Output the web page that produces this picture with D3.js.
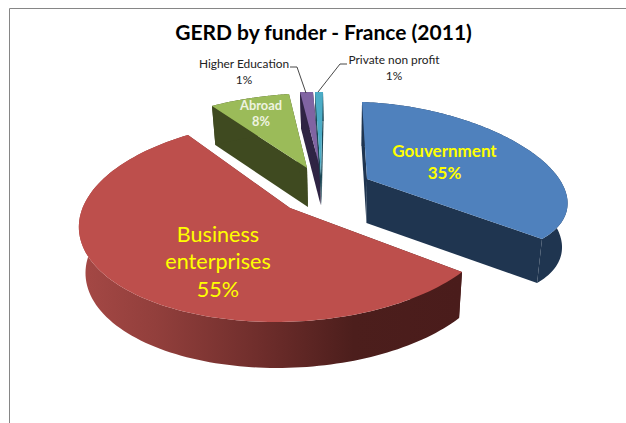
<!DOCTYPE html>
<html><head><meta charset="utf-8">
<script src="https://cdn.jsdelivr.net/npm/d3@7"></script>
<style>html,body{margin:0;padding:0;background:#fff}svg{display:block}text{font-family:Lato,"Open Sans",sans-serif}</style>
</head><body><svg id="c" width="626" height="423"></svg>
<script>
// --- data ---
const categories = ["Gouvernment", "Business enterprises", "Abroad", "Higher Education", "Private non profit"];
const shares = [35, 55, 8, 1, 1];
const titleText = "GERD by funder - France (2011)";

// --- styles / layout ---
const topColors  = ["#4F81BD", "#BD4F4C", "#9BBB59", "#8064A2", "#4BACC6"];
const sideColors = ["#1F3550", "url(#redRim)", "#3F4A20", "#2F2444", "#1C4654"];
// Screen frame of every exploded, perspective-tilted slice: apex, rim calibration, outline conic
const frames = [
  {apex:[367,179], a:[362,102], b:[542,239], m:[509,139], mDeg:60,    depth:44,
   outline:[[362,102],[440,113],[510,139],[567,197],[542,239]]},
  {apex:[290,208], a:[462,272], b:[188,135], m:[125,290], mDeg:225,   depth:46,
   outline:[[462,272],[188,135],[79,223],[200,315],[383,308]]},
  {apex:[307,168], a:[212,106], b:[289,94],  m:[245,99],  mDeg:335.7, depth:39},
  {apex:[320,168], a:[300,92],  b:[313,92],  m:null,      depth:37},
  {apex:[321,176], a:[315,92],  b:[323,92],  m:null,      depth:29}
];
const rotationDeg = -1.8;
const vanishX = 345, vanishScale = 0.975;

function solve(A, y){
  const n = y.length, M = A.map((r,i)=>[...r, y[i]]);
  for(let c=0;c<n;c++){
    let p=c; for(let r=c+1;r<n;r++) if(Math.abs(M[r][c])>Math.abs(M[p][c])) p=r;
    [M[c],M[p]]=[M[p],M[c]];
    for(let r=0;r<n;r++) if(r!==c){ const f=M[r][c]/M[c][c]; for(let k=c;k<=n;k++) M[r][k]-=f*M[c][k]; }
  }
  return M.map((r,i)=>r[n]/r[i]);
}
function homography(world, screen){
  const A=[], y=[];
  world.forEach(([u,v],i)=>{
    const [X,Y]=screen[i];
    A.push([u,v,1,0,0,0,-u*X,-v*X]); y.push(X);
    A.push([0,0,0,u,v,1,-u*Y,-v*Y]); y.push(Y);
  });
  const h=solve(A,y);
  return (u,v)=>{ const w=h[6]*u+h[7]*v+1; return [(h[0]*u+h[1]*v+h[2])/w,(h[3]*u+h[4]*v+h[5])/w]; };
}
// conic through five outline points, returned as a ray-caster from the apex
function conicFrom(apex, pts){
  const rel=pts.map(p=>[p[0]-apex[0],p[1]-apex[1]]);
  const [A,B,C,D,E]=solve(rel.map(([x,y])=>[x*x/1e4,x*y/1e4,y*y/1e4,x/100,y/100]),rel.map(()=>1));
  return p=>{
    const dx=p[0]-apex[0], dy=p[1]-apex[1];
    const qa=(A*dx*dx+B*dx*dy+C*dy*dy)/1e4, qb=(D*dx+E*dy)/100;
    const t=(-qb+Math.sqrt(qb*qb+4*qa))/(2*qa);
    return [apex[0]+t*dx, apex[1]+t*dy];
  };
}
const unit = t => [Math.sin(t), Math.cos(t)];

const svg = d3.select("#c");
const defs = svg.append("defs");
const grad = defs.append("linearGradient").attr("id","redRim").attr("gradientUnits","userSpaceOnUse")
  .attr("x1",80).attr("x2",460).attr("y1",0).attr("y2",0);
[[0,"#A54845"],[0.2,"#923F3C"],[0.48,"#6E2D2B"],[0.72,"#4C1E1C"],[1,"#4A1C1B"]]
  .forEach(([o,c])=>grad.append("stop").attr("offset",o).attr("stop-color",c));

// chart frame
svg.append("path").attr("d","M9.5,423V8.5H626").attr("fill","none").attr("stroke","#868686").attr("stroke-width",1);

const pie = d3.pie().sort(null).value(d=>d)
  .startAngle(rotationDeg*Math.PI/180).endAngle(2*Math.PI+rotationDeg*Math.PI/180);
const arcs = pie(shares);
const line = d3.line();
const drawOrder = [0,2,3,4,1];

drawOrder.forEach(i=>{
  const f=frames[i], d=arcs[i];
  const [ua,va]=unit(d.startAngle), [ub,vb]=unit(d.endAngle);
  let m=f.m, mt=f.mDeg*Math.PI/180;
  if(!m){ // nearly flat sliver: affine frame
    mt=(d.startAngle+d.endAngle)/2;
    const [um,vm]=unit(mt);
    const sx=solve([[ua,va],[ub,vb]],[f.a[0]-f.apex[0],f.b[0]-f.apex[0]]);
    const sy=solve([[ua,va],[ub,vb]],[f.a[1]-f.apex[1],f.b[1]-f.apex[1]]);
    m=[f.apex[0]+sx[0]*um+sx[1]*vm, f.apex[1]+sy[0]*um+sy[1]*vm];
  }
  const H=homography([[0,0],[ua,va],[ub,vb],unit(mt)],[f.apex,f.a,f.b,m]);
  const cast=f.outline?conicFrom(f.apex,f.outline):(p=>p);
  const rim=d3.range(0,121).map(k=>{
    const [u,v]=unit(d.startAngle+(d.endAngle-d.startAngle)*k/120);
    return cast(H(u,v));
  });
  const drop=p=>[vanishX+(p[0]-vanishX)*vanishScale,p[1]+f.depth];
  const g=svg.append("g").attr("class","slice");
  const apexLow=drop(f.apex);
  // radial walls
  g.append("path").attr("d",line([f.apex,rim[0],drop(rim[0]),apexLow])+"Z").attr("fill",sideColors[i]);
  g.append("path").attr("d",line([f.apex,rim[120],drop(rim[120]),apexLow])+"Z").attr("fill",sideColors[i]);
  // outer wall
  g.append("path").attr("d",line(rim.concat(rim.map(drop).reverse()))+"Z").attr("fill",sideColors[i]);
  // top
  g.append("path").attr("d",line([f.apex].concat(rim))+"Z").attr("fill",topColors[i]);
});

// leader lines
const leaders = [[[290,67],[297,67],[306,93]],[[347,64],[340,64],[318,92]]];
leaders.forEach(p=>svg.append("path").attr("d",line(p)).attr("fill","none").attr("stroke","#333").attr("stroke-width",0.9));

// text
const pct = shares.map(s=>s+"%");
const labels = [
  {lines:[categories[0],pct[0]],x:444.5,y:[157,179],size:17,weight:700,fill:"#FFFF00"},
  {lines:["Business","enterprises",pct[1]],x:218,y:[242,269,297],size:21.6,weight:400,fill:"#FFFF00"},
  {lines:[categories[2],pct[2]],x:261,y:[110,126],size:12.8,weight:700,fill:"#EEF3E0"},
  {lines:[categories[3],pct[3]],x:244,y:[68,84],size:11.9,weight:400,fill:"#222"},
  {lines:[categories[4],pct[4]],x:394,y:[64,80],size:11.9,weight:400,fill:"#222"}
];
labels.forEach(l=>l.lines.forEach((t,k)=>svg.append("text").attr("x",l.x).attr("y",l.y[k])
  .attr("text-anchor","middle").attr("font-size",l.size).attr("font-weight",l.weight).attr("fill",l.fill).text(t)));
svg.append("text").attr("x",323.5).attr("y",40).attr("text-anchor","middle")
  .attr("font-size",21).attr("font-weight",700).attr("fill","#000").text(titleText);
</script></body></html>
